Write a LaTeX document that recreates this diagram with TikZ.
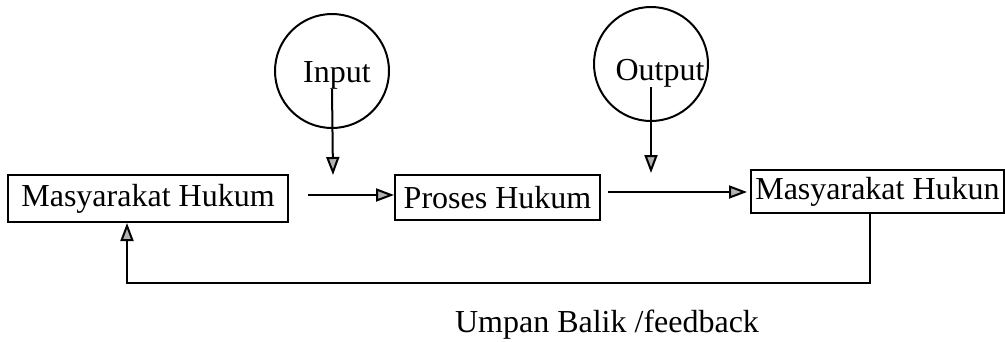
\documentclass[tikz,border=0pt]{standalone}
\usepackage{fontspec}
\setmainfont{Liberation Serif}
\usetikzlibrary{arrows.meta}
\tikzset{
  box/.style={draw,line width=2pt,inner sep=0pt,font=\fontsize{32}{37}\selectfont},
  bubble/.style={draw,circle,line width=2pt,minimum size=114pt,inner sep=0pt},
  lbl/.style={inner sep=0pt,font=\fontsize{32}{37}\selectfont},
  arr/.style={line width=2pt,-{Triangle[length=18pt,width=13pt,fill=gray!60]}}
}
\begin{document}
\begin{tikzpicture}[x=1pt,y=-1pt]
      \useasboundingbox (0,0) rectangle (1005,341);
      \node[box,minimum width=280pt,minimum height=47pt] (lhs) at (148,198.5) {Masyarakat Hukum};
      \node[box,minimum width=205pt,minimum height=45pt] (proses) at (497.5,197.5) {Proses Hukum};
      \node[box,minimum width=253pt,minimum height=43pt] (rhs) at (877.5,191.5) {Masyarakat Hukun};
      \node[bubble] (incircle) at (332,71) {};
      \node[lbl] (intext) at (337,75) {Input};
      \node[bubble] (outcircle) at (651,64) {};
      \node[lbl] (outtext) at (660,73) {Output};
      \node[lbl] (fblabel) at (607,325) {Umpan Balik /feedback};
      \coordinate (inend) at (333,175);
      \coordinate (outend) at (651,173);
      \coordinate (a1) at (308,195);
      \coordinate (a2) at (608,192);
      \coordinate (fbr) at (870,283);
      \coordinate (fbl) at (127,283);
      \draw[arr] (incircle |- intext.south) -- (inend);
      \draw[arr] (outcircle |- outtext.south) -- (outend);
      \draw[arr] (a1) -- (a1 -| proses.west);
      \draw[arr,shorten >=3pt] (a2) -- (a2 -| rhs.west);
      \draw[arr] (rhs.south -| fbr) -- (fbr) -- (fbl) -- (lhs.south -| fbl);
    \end{tikzpicture}
\end{document}
